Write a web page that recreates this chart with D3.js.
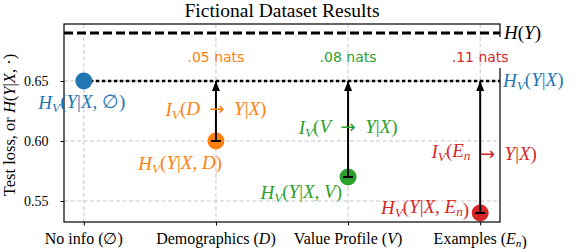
<!DOCTYPE html>
<html>
<head>
<meta charset="utf-8">
<script src="https://cdn.jsdelivr.net/npm/d3@7"></script>
<style>
  body { margin: 0; background: #fff; }
  svg { display: block; }
</style>
</head>
<body>
<script>
// data
const categories = ["No info", "Demographics", "Value Profile", "Examples"];
const catSymbols = ["∅", "D", "V", "E"];
const catSubs = ["", "", "", "n"];
const losses = [0.65, 0.60, 0.57, 0.54];
const entropyY = 0.69;
const yTicks = [0.55, 0.60, 0.65];
const colours = ["#1f77b4", "#ff7f0e", "#2ca02c", "#d62728"];

const SERIF = "Liberation Serif";
const SANS = "DejaVu Sans";

// where the annotation labels sit, relative to each point (px)
const hLabelPos = [
  { dx: -2, dy: 28, anchor: "middle" },
  { dx: 6, dy: 29, anchor: "end" },
  { dx: -6, dy: 22, anchor: "end" },
  { dx: -11, dy: 1, anchor: "end" }
];
const iLabelPos = [null, { dx: 0, dy: 5 }, { dx: 0, dy: 5 }, { dx: 4, dy: 11 }];

const width = 579, height = 249;
const margin = { top: 24, right: 79, bottom: 27, left: 64 };
const x0 = margin.left, x1 = width - margin.right;
const y0 = margin.top, y1 = height - margin.bottom;

const svg = d3.select("body").append("svg").attr("width", width).attr("height", height)
  .attr("font-family", SERIF);

const x = d3.scaleLinear().domain([-0.15, 3.15]).range([x0, x1]);
const y = d3.scaleLinear().domain([0.5325, 0.6975]).range([y1, y0]);

// write math-ish text from segments
function mathText(sel, segs) {
  sel.attr("font-family", SERIF);
  segs.forEach(s => {
    const t = sel.append("tspan").text(s.t);
    if (s.i) t.attr("font-style", "italic");
    if (s.sub) t.attr("font-size", "0.7em").attr("dy", "0.25em");
    if (s.up) t.attr("dy", "-0.25em");
    if (s.arrow) t.attr("font-family", SANS).attr("font-size", "0.95em");
  });
}
function hSegs(cond) {
  const segs = [{ t: "H", i: 1 }, { t: "V", i: 1, sub: 1 }, { t: "(", up: 1 }, { t: "Y", i: 1 }, { t: "|" }, { t: "X", i: 1 }];
  if (cond) return segs.concat([{ t: ", " }].concat(cond, [{ t: ")" }]));
  return segs.concat([{ t: ")" }]);
}
function condSegs(i) {
  const s = [{ t: catSymbols[i], i: i > 0 ? 1 : 0 }];
  if (catSubs[i]) s.push({ t: catSubs[i], i: 1, sub: 1 }, { t: "", up: 1 });
  return s;
}

// grid
svg.append("g").selectAll("line").data(yTicks).join("line")
  .attr("x1", x0).attr("x2", x1).attr("y1", d => y(d)).attr("y2", d => y(d))
  .attr("stroke", "#b8b8b8").attr("stroke-width", 0.8).attr("stroke-dasharray", "4,2.5");
svg.append("g").selectAll("line").data(categories).join("line")
  .attr("x1", (d, i) => x(i)).attr("x2", (d, i) => x(i)).attr("y1", y0).attr("y2", y1)
  .attr("stroke", "#b8b8b8").attr("stroke-width", 0.8).attr("stroke-dasharray", "4,2.5");

// reference lines
svg.append("line").attr("x1", x0).attr("x2", x1).attr("y1", y(entropyY)).attr("y2", y(entropyY))
  .attr("stroke", "#000").attr("stroke-width", 3).attr("stroke-dasharray", "9,4");
svg.append("line").attr("x1", x(0)).attr("x2", x1).attr("y1", y(losses[0])).attr("y2", y(losses[0]))
  .attr("stroke", "#000").attr("stroke-width", 2.6).attr("stroke-dasharray", "3.5,2.5");

// dots
svg.append("g").selectAll("circle").data(losses).join("circle")
  .attr("cx", (d, i) => x(i)).attr("cy", d => y(d)).attr("r", 8.5)
  .attr("fill", (d, i) => colours[i]);

// arrows
svg.append("defs").append("marker").attr("id", "head")
  .attr("viewBox", "0 0 10 10").attr("refX", 10).attr("refY", 5)
  .attr("markerWidth", 10).attr("markerHeight", 10).attr("markerUnits", "userSpaceOnUse")
  .attr("orient", "auto")
  .append("path").attr("d", "M0,1 L10,5 L0,9 Z").attr("fill", "#000");
const gains = losses.slice(1).map((d, k) => ({ i: k + 1, v: d }));
svg.append("g").selectAll("line").data(gains).join("line")
  .attr("x1", d => x(d.i)).attr("x2", d => x(d.i))
  .attr("y1", d => y(d.v)).attr("y2", y(losses[0]))
  .attr("stroke", "#000").attr("stroke-width", 2).attr("marker-end", "url(#head)");
svg.append("g").selectAll("line").data(gains).join("line")
  .attr("x1", d => x(d.i) - 5).attr("x2", d => x(d.i) + 5)
  .attr("y1", d => y(d.v)).attr("y2", d => y(d.v))
  .attr("stroke", "#000").attr("stroke-width", 2);

// spines, with a gap on the right behind the labels
svg.append("rect").attr("x", x0).attr("y", y0).attr("width", x1 - x0).attr("height", y1 - y0)
  .attr("fill", "none").attr("stroke", "#000").attr("stroke-width", 1.2);
svg.append("rect").attr("x", x1 - 2).attr("y", y(entropyY) + 4).attr("width", 4).attr("height", 31).attr("fill", "#fff");

// y axis
const yAxis = svg.append("g").attr("transform", `translate(${x0},0)`)
  .call(d3.axisLeft(y).tickValues(yTicks).tickFormat(d3.format(".2f")).tickSize(3.5).tickPadding(12));
yAxis.attr("font-family", SERIF).attr("font-size", 14);
yAxis.select(".domain").remove();
yAxis.selectAll("text").attr("fill", "#000");

// x axis
const xAxis = svg.append("g").attr("transform", `translate(0,${y1})`)
  .call(d3.axisBottom(x).tickValues([0, 1, 2, 3]).tickFormat("").tickSize(3.5));
xAxis.select(".domain").remove();
xAxis.selectAll("text").remove();
categories.forEach((c, i) => {
  const t = svg.append("text").attr("x", x(i)).attr("y", 244).attr("text-anchor", "middle")
    .attr("font-size", 16);
  mathText(t, [{ t: c + " (" }].concat(condSegs(i), [{ t: ")" }]));
});

// title
svg.append("text").attr("x", (x0 + x1) / 2).attr("y", 17).attr("text-anchor", "middle")
  .attr("font-size", 19.5).text("Fictional Dataset Results");

// y label
const yl = svg.append("text").attr("transform", `translate(15,${(y0 + y1) / 2 + 2}) rotate(-90)`)
  .attr("text-anchor", "middle").attr("font-size", 16.5);
mathText(yl, [{ t: "Test loss, or " }, { t: "H", i: 1 }, { t: "(" }, { t: "Y", i: 1 }, { t: "|" }, { t: "X", i: 1 }, { t: ", ·)" }]);

// H labels at points
losses.forEach((d, i) => {
  const p = hLabelPos[i];
  const t = svg.append("text").attr("x", x(i) + p.dx).attr("y", y(d) + p.dy)
    .attr("text-anchor", p.anchor).attr("font-size", 19).attr("fill", colours[i]);
  mathText(t, hSegs(condSegs(i)));
});

// I labels along arrows, and nats
gains.forEach(g => {
  const p = iLabelPos[g.i];
  const mid = (y(g.v) + y(losses[0])) / 2;
  const t = svg.append("text").attr("x", x(g.i) + p.dx).attr("y", mid + p.dy)
    .attr("text-anchor", "middle").attr("font-size", 19).attr("fill", colours[g.i]);
  mathText(t, [{ t: "I", i: 1 }, { t: "V", i: 1, sub: 1 }, { t: "(", up: 1 }].concat(condSegs(g.i),
    [{ t: "\u2002" }, { t: "→", arrow: 1 }, { t: "\u2002" }, { t: "Y", i: 1 }, { t: "|" }, { t: "X", i: 1 }, { t: ")" }]));
  svg.append("text").attr("font-family", SANS).attr("x", x(g.i)).attr("y", 62)
    .attr("text-anchor", "middle").attr("font-size", 14).attr("fill", colours[g.i])
    .text(d3.format(".2f")(losses[0] - g.v).replace(/^0/, "") + " nats");
});

// right-side labels
const r1 = svg.append("text").attr("x", x1 + 4).attr("y", y(entropyY) + 6).attr("font-size", 19);
mathText(r1, [{ t: "H", i: 1 }, { t: "(" }, { t: "Y", i: 1 }, { t: ")" }]);
const r2 = svg.append("text").attr("x", x1 + 3).attr("y", y(losses[0]) + 6).attr("font-size", 19).attr("fill", colours[0]);
mathText(r2, hSegs(null));
</script>
</body>
</html>
